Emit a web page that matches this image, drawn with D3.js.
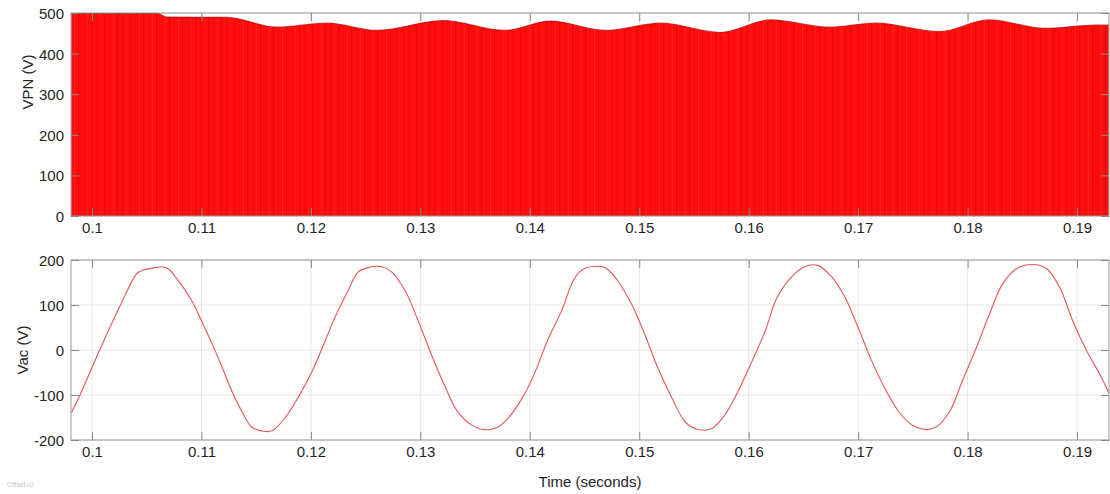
<!DOCTYPE html>
<html>
<head>
<meta charset="utf-8">
<script src="https://cdn.jsdelivr.net/npm/d3@7"></script>
<style>
  html, body { margin: 0; padding: 0; background: #ffffff; }
  svg { display: block; }
  text { font-family: "Liberation Sans", Arial, Helvetica, sans-serif; }
</style>
</head>
<body>
<svg id="chart" width="1110" height="494"></svg>
<script>
// ---- data -------------------------------------------------------------
// time axis ticks (s)
const timeTicks = [0.10, 0.11, 0.12, 0.13, 0.14, 0.15, 0.16, 0.17, 0.18, 0.19];
const timeDomain = [0.09808, 0.19292];

// VPN: switched DC-link voltage, upper envelope of the PWM pulses (V)
const vpnEnvT = [0.0981, 0.1059, 0.1068, 0.1123, 0.1169, 0.1215, 0.1260, 0.1321, 0.1377,
                 0.1419, 0.1469, 0.1520, 0.1574, 0.1620, 0.1674, 0.1716, 0.1774, 0.1820,
                 0.1870, 0.1917, 0.1929];
const vpnEnvV = [500, 500, 490, 489, 465, 475, 457, 481, 457,
                 480, 457, 475, 452, 483, 465, 475, 454, 483,
                 462, 470, 470];
const vpnTicks = [0, 100, 200, 300, 400, 500];
const vpnDomain = [0, 500];

// Vac: AC output voltage (V)
const vacT = [0.0981, 0.0989, 0.1007, 0.1026, 0.1041, 0.1046, 0.1055, 0.1064, 0.1070, 0.1076,
              0.1091, 0.1100, 0.1110, 0.1119, 0.1128, 0.1137, 0.1146, 0.1158, 0.1165, 0.1176,
              0.1188, 0.1201, 0.1213, 0.1222, 0.1234, 0.1243, 0.1252, 0.1265, 0.1274, 0.1286,
              0.1298, 0.1310, 0.1322, 0.1334, 0.1347, 0.1359, 0.1371, 0.1380, 0.1393, 0.1405,
              0.1416, 0.1429, 0.1441, 0.1450, 0.1462, 0.1468, 0.1475, 0.1480, 0.1493, 0.1505,
              0.1517, 0.1530, 0.1542, 0.1553, 0.1566, 0.1578, 0.1590, 0.1603, 0.1615, 0.1626,
              0.1639, 0.1651, 0.1663, 0.1676, 0.1688, 0.1700, 0.1712, 0.1725, 0.1738, 0.1750,
              0.1763, 0.1772, 0.1784, 0.1795, 0.1808, 0.1820, 0.1832, 0.1845, 0.1859, 0.1872,
              0.1884, 0.1896, 0.1909, 0.1921, 0.1930];
const vacV = [-140, -100, 0, 100, 170, 177, 182, 185, 180, 163,
              110, 65, 12, -39, -93, -137, -171, -181, -179, -152,
              -107, -48, 20, 73, 132, 173, 183, 185, 173, 132,
              65, -10, -78, -137, -167, -177, -171, -152, -107, -48,
              20, 87, 160, 181, 186, 184, 170, 155, 102, 35,
              -40, -107, -160, -176, -175, -145, -93, -25, 42, 117,
              162, 185, 188, 162, 117, 50, -22, -88, -140, -168,
              -177, -170, -135, -70, 5, 80, 147, 181, 190, 181,
              140, 65, -3, -55, -100];
const vacTicks = [-200, -100, 0, 100, 200];
const vacDomain = [-200, 200];

// ---- layout -----------------------------------------------------------
const svg = d3.select("#chart");
const plotLeft = 71, plotRight = 1109;
const panels = {
  vpn: { top: 13, bottom: 216 },
  vac: { top: 260, bottom: 440 }
};
const tickLen = 8;
const fontSize = 15;
const textColor = "#262626";
const gridColor = "#e6e6e6";
const boxColor = "#9a9a9a";

const x = d3.scaleLinear().domain(timeDomain).range([plotLeft, plotRight]);
const fmtTime = d => String(+d.toFixed(2));
const fmtVal = d => String(d);   // plain hyphen-minus

// clip paths for each panel
const defs = svg.append("defs");
Object.entries(panels).forEach(([k, p]) => {
  defs.append("clipPath").attr("id", "clip-" + k)
    .append("rect")
    .attr("x", plotLeft).attr("y", p.top)
    .attr("width", plotRight - plotLeft).attr("height", p.bottom - p.top);
});

// faint vertical striping of the PWM pulse train
const pat = defs.append("pattern")
  .attr("id", "pwm").attr("patternUnits", "userSpaceOnUse")
  .attr("width", 13).attr("height", 10);
pat.append("rect").attr("width", 13).attr("height", 10).attr("fill", "#ff0e0e");
pat.append("rect").attr("x", 0).attr("width", 1.4).attr("height", 10).attr("fill", "#e00000").attr("opacity", 0.55);
pat.append("rect").attr("x", 5).attr("width", 0.8).attr("height", 10).attr("fill", "#ee0000").attr("opacity", 0.5);
pat.append("rect").attr("x", 9).attr("width", 1.0).attr("height", 10).attr("fill", "#ff3030").attr("opacity", 0.45);

function drawFrame(p, y, yTicks) {
  const g = svg.append("g");
  g.append("rect").attr("x", plotLeft).attr("y", p.top)
    .attr("width", plotRight - plotLeft).attr("height", p.bottom - p.top)
    .attr("fill", "#ffffff");
  g.selectAll(".gx").data(timeTicks).join("line")
    .attr("x1", d => x(d)).attr("x2", d => x(d))
    .attr("y1", p.top).attr("y2", p.bottom)
    .attr("stroke", gridColor).attr("stroke-width", 1);
  g.selectAll(".gy").data(yTicks).join("line")
    .attr("x1", plotLeft).attr("x2", plotRight)
    .attr("y1", d => y(d)).attr("y2", d => y(d))
    .attr("stroke", gridColor).attr("stroke-width", 1);
  return g;
}

function drawAxes(p, y, yTicks, labelBaselineY) {
  const g = svg.append("g");
  g.append("rect").attr("x", plotLeft).attr("y", p.top)
    .attr("width", plotRight - plotLeft).attr("height", p.bottom - p.top)
    .attr("fill", "none").attr("stroke", boxColor).attr("stroke-width", 1);

  // inward ticks on all four sides
  const axB = d3.axisBottom(x).tickValues(timeTicks).tickSize(-tickLen).tickFormat(fmtTime);
  const axT = d3.axisTop(x).tickValues(timeTicks).tickSize(-tickLen).tickFormat("");
  const axL = d3.axisLeft(y).tickValues(yTicks).tickSize(-tickLen).tickFormat(fmtVal);
  const axR = d3.axisRight(y).tickValues(yTicks).tickSize(-tickLen).tickFormat("");

  const gb = g.append("g").attr("transform", `translate(0,${p.bottom})`).call(axB);
  const gt = g.append("g").attr("transform", `translate(0,${p.top})`).call(axT);
  const gl = g.append("g").attr("transform", `translate(${plotLeft},0)`).call(axL);
  const gr = g.append("g").attr("transform", `translate(${plotRight},0)`).call(axR);
  [gb, gt, gl, gr].forEach(s => {
    s.select(".domain").remove();
    s.selectAll(".tick line").attr("stroke", "#8a8a8a").attr("stroke-width", 1);
    s.selectAll("text").attr("fill", textColor).attr("font-size", fontSize)
      .attr("font-family", '"Liberation Sans", Arial, sans-serif');
  });
  gb.selectAll("text").attr("dy", null).attr("y", labelBaselineY - p.bottom);
  gl.selectAll("text").attr("x", -7).attr("dy", "0.36em");
  return g;
}

// ---- VPN panel -------------------------------------------------------
{
  const p = panels.vpn;
  const y = d3.scaleLinear().domain(vpnDomain).range([p.bottom, p.top]);
  drawFrame(p, y, vpnTicks);

  const env = vpnEnvT.map((t, i) => ({ t, v: vpnEnvV[i] }));
  const area = d3.area().x(d => x(d.t)).y0(y(0)).y1(d => y(d.v)).curve(d3.curveMonotoneX);
  const line = d3.line().x(d => x(d.t)).y(d => y(d.v)).curve(d3.curveMonotoneX);
  const g = svg.append("g").attr("clip-path", "url(#clip-vpn)");
  g.append("path").datum(env).attr("d", area).attr("fill", "url(#pwm)");
  g.append("path").datum(env).attr("d", line)
    .attr("fill", "none").attr("stroke", "#c40000").attr("stroke-width", 1.2).attr("opacity", 0.75);

  drawAxes(p, y, vpnTicks, 233);
  svg.append("text")
    .attr("transform", `translate(33,82) rotate(-90)`)
    .attr("text-anchor", "middle")
    .attr("font-size", fontSize).attr("fill", textColor)
    .text("VPN (V)");
}

// ---- Vac panel --------------------------------------------------------
{
  const p = panels.vac;
  const y = d3.scaleLinear().domain(vacDomain).range([p.bottom, p.top]);
  drawFrame(p, y, vacTicks);

  const pts = vacT.map((t, i) => ({ t, v: vacV[i] }));
  const line = d3.line().x(d => x(d.t)).y(d => y(d.v)).curve(d3.curveCatmullRom.alpha(0.5));
  svg.append("g").attr("clip-path", "url(#clip-vac)")
    .append("path").datum(pts).attr("d", line)
    .attr("fill", "none").attr("stroke", "#e05a5a").attr("stroke-width", 1.1);

  drawAxes(p, y, vacTicks, 457);
  svg.append("text")
    .attr("transform", `translate(28,350) rotate(-90)`)
    .attr("text-anchor", "middle")
    .attr("font-size", fontSize).attr("fill", textColor)
    .text("Vac (V)");
  svg.append("text")
    .attr("x", 590).attr("y", 487)
    .attr("text-anchor", "middle")
    .attr("font-size", fontSize).attr("fill", textColor)
    .text("Time (seconds)");
}

// scope status text
svg.append("text")
  .attr("x", 7).attr("y", 487)
  .attr("font-size", 7).attr("fill", "#c8c8c8")
  .text("Offset=0");
</script>
</body>
</html>
